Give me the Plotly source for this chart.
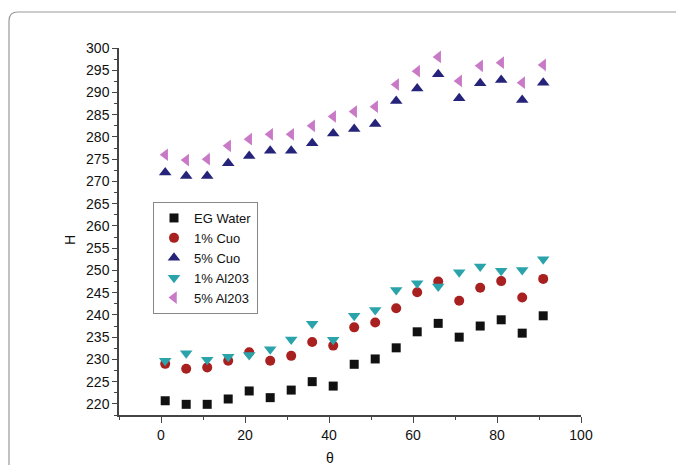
import plotly.graph_objects as go

theta = [1, 6, 11, 16, 21, 26, 31, 36, 41, 46, 51, 56, 61, 66, 71, 76, 81, 86, 91]
eg_water = [220.7, 219.9, 219.9, 221.1, 222.9, 221.4, 223.1, 225.0, 224.0, 228.9,
            230.1, 232.6, 236.2, 238.1, 235.0, 237.5, 238.9, 235.9, 239.8]
cuo_1 = [229.0, 227.9, 228.2, 229.7, 231.6, 229.7, 230.8, 233.9, 233.1, 237.2,
         238.3, 241.5, 245.1, 247.5, 243.2, 246.1, 247.6, 243.9, 248.1]
cuo_5 = [272.0, 271.2, 271.2, 274.1, 275.7, 276.9, 276.9, 278.6, 280.8, 281.8,
         282.9, 288.1, 290.9, 294.1, 288.7, 292.1, 292.8, 288.3, 292.2]
al_1 = [229.7, 231.4, 229.9, 230.6, 231.0, 232.3, 234.5, 238.0, 234.4, 239.8,
        241.1, 245.6, 247.1, 246.4, 249.6, 250.9, 249.9, 250.1, 252.5]
al_5 = [276.0, 274.8, 275.0, 278.0, 279.5, 280.6, 280.6, 282.5, 284.6, 285.7,
        286.8, 291.8, 294.8, 298.0, 292.6, 296.0, 296.7, 292.2, 296.2]

names = ["EG Water", "1% Cuo", "5% Cuo", "1% Al203", "5% Al203"]
series = [eg_water, cuo_1, cuo_5, al_1, al_5]
symbols = ["square", "circle", "triangle-up", "triangle-down", "triangle-left"]
colors = ["#111111", "#a8201f", "#25247a", "#2aa3aa", "#c97ac6"]
sizes = [9, 10, 11, 11, 11]

FONT = "Arial, 'Liberation Sans', sans-serif"

fig = go.Figure()
for n, s, sym, c, sz in zip(names, series, symbols, colors, sizes):
    fig.add_trace(go.Scatter(x=theta, y=s, mode="markers", name=n,
                             marker=dict(symbol=sym, color=c, size=sz, line=dict(width=0))))

W, H = 676, 465
L, R, T, B = 119, 95, 48, 50
pw, ph = W - L - R, H - T - B

def px(x):
    return (x - L) / pw

def py(y):
    return (H - B - y) / ph

xl, yt, xr, yb, rad = 9, 12, 690, 480, 9
path = (f"M {px(xl):.4f},{py(yb):.4f} L {px(xl):.4f},{py(yt + rad):.4f} "
        f"Q {px(xl):.4f},{py(yt):.4f} {px(xl + rad):.4f},{py(yt):.4f} "
        f"L {px(xr):.4f},{py(yt):.4f}")
fig.add_shape(type="path", path=path, xref="paper", yref="paper",
              line=dict(color="#9a9a9a", width=1.2))

fig.add_annotation(text="H", x=px(70), y=py(240), xref="paper", yref="paper",
                   showarrow=False, textangle=-90, font=dict(size=14),
                   xanchor="center", yanchor="middle")
fig.add_annotation(text="θ", x=px(330), y=py(458), xref="paper", yref="paper",
                   showarrow=False, font=dict(size=14),
                   xanchor="center", yanchor="middle")

fig.update_layout(
    width=W, height=H,
    margin=dict(l=L, r=R, t=T, b=B, autoexpand=False),
    paper_bgcolor="white", plot_bgcolor="white",
    font=dict(family=FONT, size=14, color="#111"),
    showlegend=True,
    legend=dict(x=px(153), y=py(202), xanchor="left", yanchor="top",
                bordercolor="#888", borderwidth=1, bgcolor="white",
                font=dict(size=13), itemwidth=30, tracegroupgap=0),
    xaxis=dict(range=[-10, 100], tickvals=[0, 20, 40, 60, 80, 100],
               showgrid=False, zeroline=False, showline=True, linecolor="#444",
               linewidth=1.5, ticks="outside", ticklen=6, tickcolor="#444",
               minor=dict(dtick=10, tick0=0, ticks="outside", ticklen=3, tickcolor="#444"),
               tickfont=dict(size=14), automargin=False),
    yaxis=dict(range=[217.5, 300], dtick=5, tick0=220,
               showgrid=False, zeroline=False, showline=True, linecolor="#444",
               linewidth=1.5, ticks="outside", ticklen=5, tickcolor="#444",
               minor=dict(dtick=2.5, tick0=220, ticks="outside", ticklen=3, tickcolor="#444"),
               tickfont=dict(size=14), automargin=False),
)

fig.write_html("out.html")
